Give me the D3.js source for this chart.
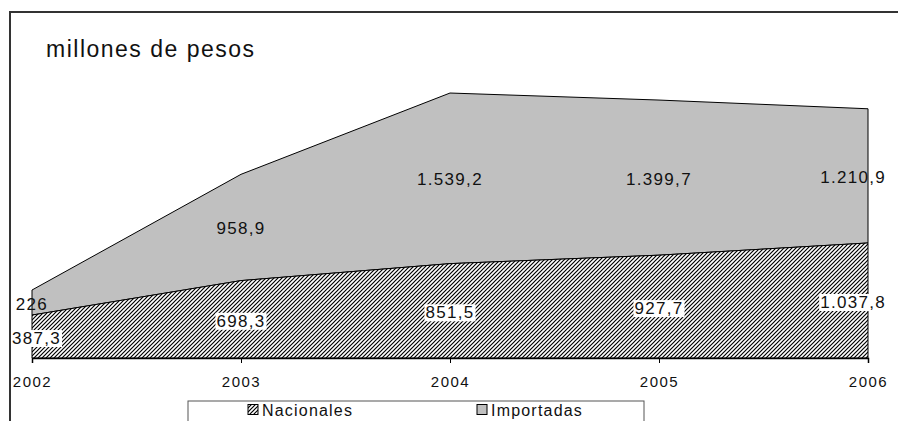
<!DOCTYPE html>
<html lang="es">
<head>
<meta charset="utf-8">
<title>millones de pesos</title>
<script src="https://d3js.org/d3.v7.min.js"></script>
<style>
    body { margin: 0; background: #fff; }
    text { font-family: "Liberation Sans", Arial, sans-serif; fill: #111; }
    .val { font-size: 17px; letter-spacing: 1.3px; }
    .tick { font-size: 15px; letter-spacing: 1.5px; }
    .leg { font-size: 16px; letter-spacing: 1.2px; }
</style>
</head>
<body>
<script>
    const years = ["2002", "2003", "2004", "2005", "2006"];
    const nacionales = [387.3, 698.3, 851.5, 927.7, 1037.8];
    const importadas = [226, 958.9, 1539.2, 1399.7, 1210.9];
    const nacLabels = ["387,3", "698,3", "851,5", "927,7", "1.037,8"];
    const impLabels = ["226", "958,9", "1.539,2", "1.399,7", "1.210,9"];

    const W = 898, H = 421;
    const svg = d3.select("body").append("svg").attr("width", W).attr("height", H);

    const defs = svg.append("defs");
    const pat = defs.append("pattern").attr("id", "hatch")
        .attr("patternUnits", "userSpaceOnUse").attr("width", 4).attr("height", 4);
    pat.append("rect").attr("width", 4).attr("height", 4).attr("fill", "#fff");
    pat.append("path").attr("d", "M-1,1 l2,-2 M0,4 l4,-4 M3,5 l2,-2")
        .attr("stroke", "#000").attr("stroke-width", 1.2);

    // outer frame
    svg.append("path").attr("d", "M10,421 V12 H898")
        .attr("fill", "none").attr("stroke", "#333").attr("stroke-width", 2);

    const x = d3.scalePoint().domain(years).range([32, 868]);
    const y = d3.scaleLinear().domain([0, 2400]).range([358, 92]);

    const data = years.map((yr, i) => ({
        yr, nac: nacionales[i], tot: nacionales[i] + importadas[i]
    }));

    const areaNac = d3.area().x(d => x(d.yr)).y0(y(0)).y1(d => y(d.nac));
    const areaImp = d3.area().x(d => x(d.yr)).y0(d => y(d.nac)).y1(d => y(d.tot));

    svg.append("path").datum(data).attr("d", areaImp)
        .attr("fill", "#c0c0c0").attr("stroke", "#000").attr("stroke-width", 1);
    svg.append("path").datum(data).attr("d", areaNac)
        .attr("fill", "url(#hatch)").attr("stroke", "#000").attr("stroke-width", 1);

    // axis
    const axis = d3.axisBottom(x).tickSize(5).tickPadding(13);
    const gx = svg.append("g").attr("transform", `translate(0,${y(0)})`).call(axis);
    gx.select(".domain").attr("stroke", "#000").attr("stroke-width", 1.5);
    gx.selectAll(".tick line").attr("stroke", "#000");
    gx.selectAll(".tick text").attr("class", "tick").attr("font-size", null)
        .attr("font-family", null).attr("fill", "#111");

    // value labels
    function place(g, cx, cy, txt, bg) {
        const t = g.append("text").attr("class", "val").attr("text-anchor", "middle")
            .attr("dominant-baseline", "central").attr("x", cx).attr("y", cy).text(txt);
        const bb = t.node().getBBox();
        let dx = 0;
        if (bb.x < 12) dx = 12 - bb.x;
        if (bb.x + bb.width > 886) dx = 886 - (bb.x + bb.width);
        t.attr("x", cx + dx);
        if (bg) {
            g.insert("rect", "text:last-child")
                .attr("x", bb.x + dx - 1).attr("y", bb.y + 1).attr("width", bb.width + 2)
                .attr("height", bb.height - 2).attr("fill", "#fff");
        }
    }
    data.forEach((d, i) => {
        const g = svg.append("g");
        place(g, x(d.yr), (y(0) + y(d.nac)) / 2 + 2, nacLabels[i], true);
        place(g, x(d.yr), (y(d.nac) + y(d.tot)) / 2 + 1.5, impLabels[i], false);
    });

    // title
    svg.append("text").attr("x", 46).attr("y", 57).attr("font-size", 23)
        .attr("letter-spacing", 1.5).text("millones de pesos");

    // legend
    const leg = svg.append("g");
    leg.append("rect").attr("x", 188).attr("y", 401).attr("width", 456).attr("height", 30)
        .attr("fill", "#fff").attr("stroke", "#555").attr("stroke-width", 1);
    const items = [
        { name: "Nacionales", fill: "url(#hatch)", x: 248 },
        { name: "Importadas", fill: "#c0c0c0", x: 477 }
    ];
    items.forEach(it => {
        leg.append("rect").attr("x", it.x).attr("y", 404.5).attr("width", 10).attr("height", 10)
            .attr("fill", it.fill).attr("stroke", "#000").attr("stroke-width", 1);
        leg.append("text").attr("class", "leg").attr("x", it.x + 14).attr("y", 415.5).text(it.name);
    });
</script>
</body>
</html>
